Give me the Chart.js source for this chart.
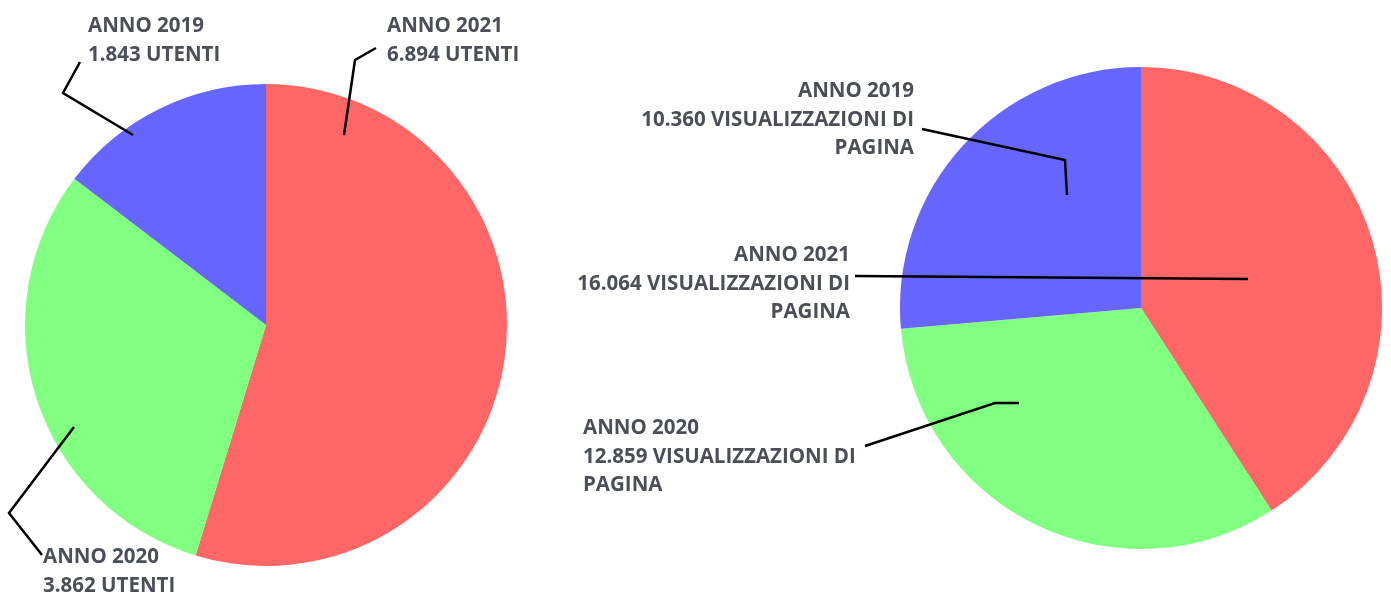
<!DOCTYPE html>
<html>
<head>
<meta charset="utf-8">
<script src="https://cdn.jsdelivr.net/npm/chart.js@4"></script>
<style>
  html, body { margin: 0; padding: 0; background: #fff; }
  #wrap { position: relative; width: 1391px; height: 595px; }
  canvas { position: absolute; left: 0; top: 0; }
</style>
</head>
<body>
<div id="wrap">
  <canvas id="usersChart" width="1391" height="595"></canvas>
  <canvas id="viewsChart" width="1391" height="595"></canvas>
</div>
<script>
// data
const years = ['ANNO 2021', 'ANNO 2020', 'ANNO 2019'];
const users = [6894, 3862, 1843];
const pageViews = [16064, 12859, 10360];
const colors = ['#ff6666', '#80ff80', '#6666ff'];

const fmt = n => n.toLocaleString('it-IT');

// label layout: text position + leader line points, relative to the pie centre
const usersLabels = [
  { x: 387, y: 32, align: 'left', suffix: ['UTENTI'], line: [[110, -277], [89, -265], [78, -190]] },
  { x: 43, y: 563, align: 'left', suffix: ['UTENTI'], line: [[-224, 230], [-257, 188], [-192, 102]] },
  { x: 88, y: 32, align: 'left', suffix: ['UTENTI'], line: [[-186, -263], [-203, -232], [-133, -190]] }
];
const viewsLabels = [
  { x: 850, y: 261, align: 'right', suffix: ['VISUALIZZAZIONI DI', 'PAGINA'], line: [[-286, -32], [107, -29]] },
  { x: 583, y: 434, align: 'left', suffix: ['VISUALIZZAZIONI DI', 'PAGINA'], line: [[-276, 138], [-146, 95], [-122, 95]] },
  { x: 914, y: 97, align: 'right', suffix: ['VISUALIZZAZIONI DI', 'PAGINA'], line: [[-219, -179], [-76, -148], [-74, -113]] }
];

const calloutPlugin = {
  id: 'callouts',
  afterDraw(chart, args, opts) {
    const ctx = chart.ctx;
    const arc = chart.getDatasetMeta(0).data[0];
    const cx = arc.x, cy = arc.y;
    const values = chart.data.datasets[0].data;
    ctx.save();
    opts.labels.forEach((lb, i) => {
      ctx.strokeStyle = '#000';
      ctx.lineWidth = 2.5;
      ctx.beginPath();
      lb.line.forEach((p, j) => {
        if (j === 0) ctx.moveTo(cx + p[0], cy + p[1]);
        else ctx.lineTo(cx + p[0], cy + p[1]);
      });
      ctx.stroke();

      const lines = [chart.data.labels[i], fmt(values[i]) + ' ' + lb.suffix[0]].concat(lb.suffix.slice(1));
      ctx.fillStyle = '#4b4f58';
      ctx.font = 'bold 20.5px "Open Sans"';
      ctx.textAlign = lb.align;
      ctx.textBaseline = 'alphabetic';
      lines.forEach((t, k) => ctx.fillText(t, lb.x, lb.y + k * 28.5));
    });
    ctx.restore();
  }
};

function makePie(id, values, labels, padding) {
  return new Chart(document.getElementById(id), {
    type: 'pie',
    data: {
      labels: years,
      datasets: [{ data: values, backgroundColor: colors, borderWidth: 0 }]
    },
    options: {
      responsive: false,
      animation: false,
      layout: { padding: padding },
      plugins: {
        legend: { display: false },
        tooltip: { enabled: false },
        callouts: { labels: labels }
      }
    },
    plugins: [calloutPlugin]
  });
}

makePie('usersChart', users, usersLabels, { left: 25, top: 84, right: 884, bottom: 29 });
makePie('viewsChart', pageViews, viewsLabels, { left: 900, top: 67, right: 9, bottom: 46 });
</script>
</body>
</html>
